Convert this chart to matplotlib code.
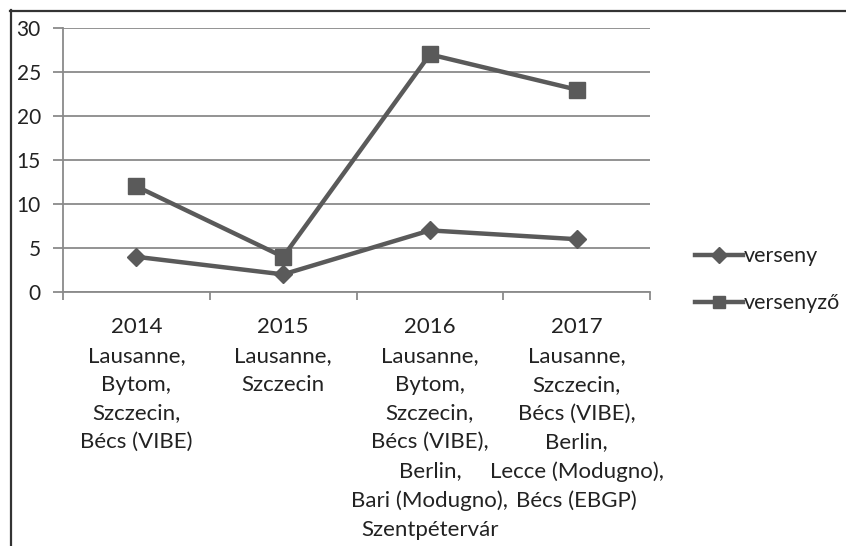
import matplotlib
matplotlib.use("Agg")
import matplotlib.pyplot as plt
from matplotlib.lines import Line2D

plt.rcParams['font.family'] = ['Lato', 'DejaVu Sans']

years = ['2014', '2015', '2016', '2017']
places = [
    'Lausanne,\nBytom,\nSzczecin,\nBécs (VIBE)',
    'Lausanne,\nSzczecin',
    'Lausanne,\nBytom,\nSzczecin,\nBécs (VIBE),\nBerlin,\nBari (Modugno),\nSzentpétervár',
    'Lausanne,\nSzczecin,\nBécs (VIBE),\nBerlin,\nLecce (Modugno),\nBécs (EBGP)',
]
verseny = [4, 2, 7, 6]
versenyzo = [12, 4, 27, 23]

line_c = '#5a5a5a'
grid_c = '#8a8a8a'
text_c = '#222222'

fig = plt.figure(figsize=(8.46, 5.46), dpi=100)
ax = fig.add_axes([63/846, 254/546, (650-63)/846, (292-28)/546])

x = list(range(len(years)))
ax.plot(x, verseny, color=line_c, lw=3.2, marker='D', ms=9, label='verseny')
ax.plot(x, versenyzo, color=line_c, lw=3.2, marker='s', ms=11, label='versenyző')

ax.set_xlim(-0.5, 3.5)
ax.set_ylim(0, 30)
ax.set_yticks(range(0, 31, 5))
ax.yaxis.grid(True, color=grid_c, lw=1.3)
ax.set_axisbelow(True)

labels = [y + '\n' + p for y, p in zip(years, places)]
ax.set_xticks(x)
ax.set_xticklabels(labels, fontsize=16, color=text_c, linespacing=1.55)
ax.set_xticks([-0.5, 0.5, 1.5, 2.5, 3.5], minor=True)
ax.tick_params(axis='x', which='major', length=0, pad=18)
ax.tick_params(axis='x', which='minor', length=6, width=1.3, color=grid_c, direction='out')
ax.tick_params(axis='y', length=7, width=1.3, color=grid_c, labelsize=15,
               labelcolor=text_c, pad=9)

for s in ['top', 'right']:
    ax.spines[s].set_visible(False)
for s in ['left', 'bottom']:
    ax.spines[s].set_color(grid_c)
    ax.spines[s].set_linewidth(1.3)

fig.legend(loc='upper left', bbox_to_anchor=(676/846, 1 - 227/546),
           frameon=False, fontsize=15.5, labelspacing=1.25, handlelength=2.2,
           handletextpad=0.05, labelcolor=text_c, markerscale=0.85)

# screenshot border (top and left only)
fig.add_artist(Line2D([10/846, 1], [1 - 10.5/546, 1 - 10.5/546], color='#333333', lw=1.6))
fig.add_artist(Line2D([10.5/846, 10.5/846], [0, 1 - 10/546], color='#333333', lw=1.6))

fig.savefig('out.png', dpi=100)
